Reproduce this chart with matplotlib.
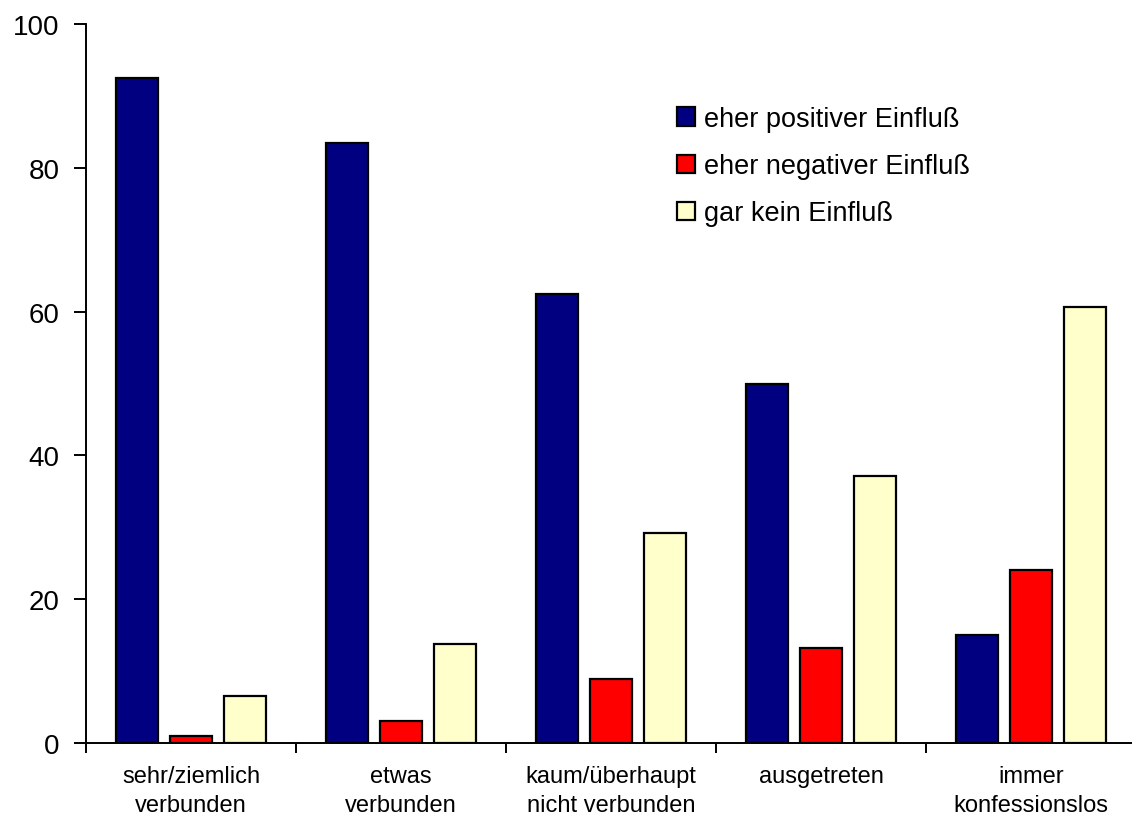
import numpy as np
import matplotlib.pyplot as plt
from matplotlib.patches import Patch

plt.rcParams['font.family'] = ['Liberation Sans', 'DejaVu Sans']

categories = ["sehr/ziemlich\nverbunden", "etwas\nverbunden", "kaum/überhaupt\nnicht verbunden",
              "ausgetreten", "immer\nkonfessionslos"]
series_names = ["eher positiver Einfluß", "eher negativer Einfluß", "gar kein Einfluß"]
positiv = [92.5, 83.4, 62.4, 49.9, 15.0]
negativ = [1.0, 3.0, 8.9, 13.2, 24.0]
kein = [6.6, 13.8, 29.2, 37.1, 60.7]
colors = ["#000080", "#FF0000", "#FFFFCC"]

fig = plt.figure(figsize=(11.32, 8.29), dpi=100)
ax = fig.add_axes([86 / 1132, 85 / 829, 1050 / 1132, 719 / 829])

x = np.arange(len(categories))
step = 0.257
for i, vals in enumerate([positiv, negativ, kein]):
    ax.bar(x + (i - 1) * step, vals, width=0.2, color=colors[i],
           edgecolor="black", linewidth=1.6, zorder=3)

ax.set_xlim(-0.5, len(categories) - 0.5)
ax.set_ylim(0, 100)
ax.set_yticks([0, 20, 40, 60, 80, 100])
ax.tick_params(axis="y", length=9, width=1.4, pad=10, labelsize=20)

ax.set_xticks(np.arange(len(categories) + 1) - 0.5)
ax.set_xticklabels([])
ax.tick_params(axis="x", which="major", length=7, width=1.4)
ax.set_xticks(x, minor=True)
ax.set_xticklabels(categories, minor=True, fontsize=17, linespacing=1.38)
ax.tick_params(axis="x", which="minor", length=0, pad=16)

for s in ["top", "right"]:
    ax.spines[s].set_visible(False)
for s in ["left", "bottom"]:
    ax.spines[s].set_linewidth(1.4)

handles = [Patch(facecolor=c, edgecolor="black", linewidth=1.6) for c in colors]
fig.legend(handles, series_names, loc="upper left", bbox_to_anchor=(677 / 1132, 1 - 107 / 829),
           frameon=False, fontsize=19.5, handlelength=0.65, handleheight=0.65,
           handletextpad=0.35, labelspacing=0.78, borderpad=0, borderaxespad=0)

fig.savefig("out.png", dpi=100)
